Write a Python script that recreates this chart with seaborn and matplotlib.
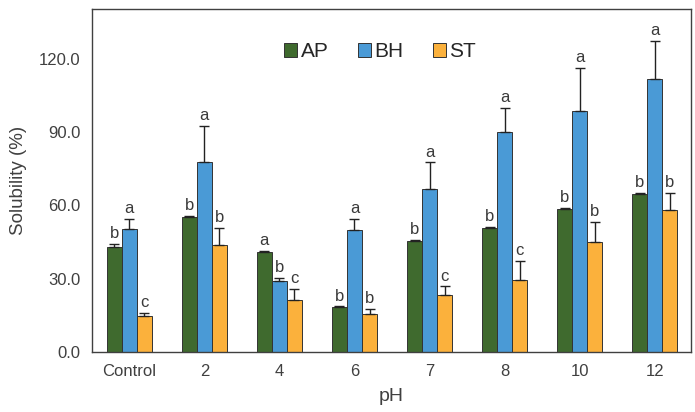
import matplotlib

matplotlib.use("Agg")

import matplotlib.pyplot as plt
import numpy as np
import pandas as pd
import seaborn as sns
from matplotlib.ticker import FormatStrFormatter

ph_labels = ["Control", "2", "4", "6", "7", "8", "10", "12"]
samples = ["AP", "BH", "ST"]

ap_mean = [42.9, 55.2, 41.0, 18.3, 45.6, 50.9, 58.6, 64.9]
bh_mean = [50.4, 77.7, 29.1, 50.1, 66.7, 90.0, 98.8, 111.8]
st_mean = [14.5, 43.6, 21.3, 15.6, 23.1, 29.6, 45.1, 58.1]

ap_err = [1.2, 0.4, 0.4, 0.3, 0.4, 0.3, 0.3, 0.3]
bh_err = [4.0, 14.9, 1.1, 4.3, 11.0, 9.9, 17.6, 15.5]
st_err = [1.6, 7.3, 4.6, 1.9, 3.7, 7.8, 8.2, 6.9]

ap_letters = ["b", "b", "a", "b", "b", "b", "b", "b"]
bh_letters = ["a", "a", "b", "a", "a", "a", "a", "a"]
st_letters = ["c", "b", "c", "b", "c", "c", "b", "b"]

palette = {"AP": "#3f6a2e", "BH": "#4a9ad6", "ST": "#fbb13c"}

rows = []
for name, means, errs, letters in [
    ("AP", ap_mean, ap_err, ap_letters),
    ("BH", bh_mean, bh_err, bh_letters),
    ("ST", st_mean, st_err, st_letters),
]:
    for ph, m, e, l in zip(ph_labels, means, errs, letters):
        rows.append({"pH": ph, "sample": name, "solubility": m, "err": e, "letter": l})
data = pd.DataFrame(rows)

sns.set_style("white")
plt.rcParams["font.family"] = ["Liberation Sans", "DejaVu Sans"]

fig, ax = plt.subplots(figsize=(6.95, 4.12), dpi=100)
sns.barplot(
    data=data, x="pH", y="solubility", hue="sample", order=ph_labels,
    hue_order=samples, palette=palette, saturation=1, errorbar=None, width=0.6,
    edgecolor="#333333", linewidth=0.7, ax=ax,
)

for container, name in zip(ax.containers, samples):
    sub = data[data["sample"] == name].set_index("pH").loc[ph_labels]
    xs = [p.get_x() + p.get_width() / 2 for p in container.patches]
    ax.errorbar(
        xs, sub["solubility"], yerr=[np.zeros(len(xs)), sub["err"]],
        fmt="none", ecolor="#222222", elinewidth=1, capsize=3.5, capthick=1,
    )
    for x, m, e, l in zip(xs, sub["solubility"], sub["err"], sub["letter"]):
        ax.annotate(
            l, (x, m + e), xytext=(0, 2), textcoords="offset points",
            ha="center", va="bottom", fontsize=12, color="#3a3a3a",
        )

ax.set_xlim(-0.5, 7.48)
ax.set_ylim(0, 140.5)
ax.set_yticks([0, 30, 60, 90, 120])
ax.yaxis.set_major_formatter(FormatStrFormatter("%.1f"))
ax.tick_params(axis="both", length=0, labelsize=12, labelcolor="#404040")
ax.tick_params(axis="y", pad=8)
ax.tick_params(axis="x", pad=9)
ax.set_xlabel("pH", fontsize=14, color="#404040", labelpad=6)
ax.set_ylabel("Solubility (%)", fontsize=13.5, color="#404040", labelpad=9)
for spine in ax.spines.values():
    spine.set_color("#404040")
    spine.set_linewidth(1)

ax.legend(
    loc="center", bbox_to_anchor=(0.481, 0.875), ncol=3, frameon=False,
    fontsize=15, handlelength=0.65, handleheight=0.65, handletextpad=0.15,
    columnspacing=1.4, title=None, borderaxespad=0,
)

fig.subplots_adjust(left=0.132, right=0.994, top=0.978, bottom=0.146)
fig.savefig("out.png", dpi=100)
